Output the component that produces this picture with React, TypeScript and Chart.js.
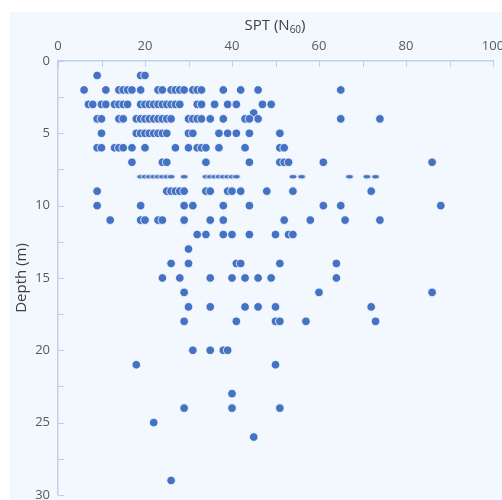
import React, { useEffect, useRef } from "react";
import { Chart, registerables } from "chart.js";

Chart.register(...registerables);

// Depth levels (m) and the SPT N60 values read at each level
const depthLevels = [1, 2, 3, 3.6, 4, 5, 6, 7, 9, 10, 11, 12, 13, 14, 15, 16, 17, 18, 20, 21, 23, 24, 25, 26, 29];
const sptByLevel = [
  [9, 19, 20],
  [6, 11, 14, 15, 16, 17, 19, 23, 24, 26, 27, 28, 29, 31, 32, 33, 38, 42, 46, 65],
  [7, 8, 10, 11, 13, 14, 15, 16, 19, 20, 21, 22, 23, 24, 25, 26, 27, 28, 32, 33, 36, 39, 41, 47, 49],
  [45],
  [9, 10, 14, 15, 18, 19, 20, 21, 22, 23, 24, 25, 26, 30, 31, 32, 33, 35, 38, 43, 44, 46, 65, 74],
  [10, 18, 19, 20, 21, 22, 23, 24, 25, 30, 31, 37, 39, 41, 44, 51],
  [9, 10, 13, 14, 15, 17, 20, 27, 30, 32, 33, 34, 37, 43, 51, 52],
  [17, 24, 25, 34, 44, 51, 52, 53, 61, 86],
  [9, 25, 26, 27, 28, 29, 34, 35, 39, 40, 42, 48, 54, 72],
  [9, 19, 29, 31, 38, 44, 61, 65, 88],
  [12, 19, 20, 23, 24, 29, 35, 38, 52, 58, 66, 74],
  [32, 34, 38, 40, 44, 50, 53, 54],
  [30],
  [26, 30, 41, 42, 51, 64],
  [24, 28, 35, 40, 43, 46, 49, 64],
  [29, 60, 86],
  [30, 35, 43, 46, 50, 72],
  [29, 41, 50, 51, 57, 73],
  [31, 35, 38, 39],
  [18, 50],
  [40],
  [29, 40, 51],
  [22],
  [45],
  [26],
];
// Row at 8 m, drawn with flattened markers in the reference
const depth8 = 8;
const depth8Spt = [19, 20, 21, 22, 23, 24, 25, 26, 29, 34, 35, 36, 37, 38, 39, 40, 41, 54, 56, 67, 71, 73];

const xTicks = [0, 20, 40, 60, 80, 100];
const yTicks = [0, 5, 10, 15, 20, 25, 30];
const xTitleMain = "SPT (N";
const xTitleSub = "60";
const xTitleEnd = ")";
const yTitle = "Depth (m)";

const BLUE = "#4472C4";
const AXIS = "#bcd2ec";
const FONT = "'Open Sans', 'Liberation Sans', sans-serif";

export default function App() {
  const ref = useRef<HTMLCanvasElement | null>(null);

  useEffect(() => {
    if (!ref.current) return;
    const mainPts: { x: number; y: number }[] = [];
    depthLevels.forEach((d, i) => sptByLevel[i].forEach((v) => mainPts.push({ x: v, y: d })));
    const rowPts = depth8Spt.map((v) => ({ x: v, y: depth8 }));

    const ell = document.createElement("canvas");
    ell.width = 10;
    ell.height = 7;
    const ec = ell.getContext("2d")!;
    ec.fillStyle = BLUE;
    ec.strokeStyle = "#ffffff";
    ec.lineWidth = 0.9;
    ec.beginPath();
    ec.ellipse(5, 3.5, 4, 2.4, 0, 0, Math.PI * 2);
    ec.fill();
    ec.stroke();

    const deco = {
      id: "deco",
      beforeDraw(chart: any) {
        const c = chart.ctx;
        c.save();
        c.fillStyle = "#ffffff";
        c.fillRect(0, 0, chart.width, chart.height);
        c.fillStyle = "#f2f8fd";
        c.fillRect(10, 12, chart.width - 10, chart.height - 12);
        c.restore();
      },
      afterDraw(chart: any) {
        const c = chart.ctx;
        const xs = chart.scales.x;
        const ys = chart.scales.y;
        const a = chart.chartArea;
        c.save();
        c.strokeStyle = AXIS;
        c.lineWidth = 1;
        for (let v = 0; v <= 100; v += 10) {
          const px = Math.round(xs.getPixelForValue(v)) + 0.5;
          c.beginPath();
          c.moveTo(px, a.top);
          c.lineTo(px, a.top + 6);
          c.stroke();
        }
        for (let v = 0; v <= 30; v += 2.5) {
          const py = Math.round(ys.getPixelForValue(v)) + 0.5;
          c.beginPath();
          c.moveTo(a.left, py);
          c.lineTo(a.left + 6, py);
          c.stroke();
        }
        c.fillStyle = "#404040";
        c.textBaseline = "alphabetic";
        c.font = `15px ${FONT}`;
        const w1 = c.measureText(xTitleMain).width;
        const w3 = c.measureText(xTitleEnd).width;
        c.font = `10px ${FONT}`;
        const w2 = c.measureText(xTitleSub).width;
        const total = w1 + w2 + w3;
        const x0 = 275 - total / 2;
        const base = 30;
        c.font = `15px ${FONT}`;
        c.textAlign = "left";
        c.fillText(xTitleMain, x0, base);
        c.font = `10px ${FONT}`;
        c.fillText(xTitleSub, x0 + w1, base + 3);
        c.font = `15px ${FONT}`;
        c.fillText(xTitleEnd, x0 + w1 + w2, base);
        c.translate(22, (a.top + a.bottom) / 2);
        c.rotate(-Math.PI / 2);
        c.textAlign = "center";
        c.textBaseline = "middle";
        c.fillText(yTitle, 0, 0);
        c.restore();
      },
    };

    const chart = new Chart(ref.current, {
      type: "scatter",
      data: {
        datasets: [
          {
            data: mainPts,
            backgroundColor: BLUE,
            borderColor: "#ffffff",
            borderWidth: 0.8,
            pointRadius: 4.3,
          },
          {
            data: rowPts,
            pointStyle: ell as any,
            backgroundColor: BLUE,
            borderColor: BLUE,
          },
        ],
      },
      options: {
        animation: false,
        responsive: false,
        layout: { padding: { left: 0, top: 0, right: 9, bottom: 5 } },
        plugins: { legend: { display: false }, tooltip: { enabled: false }, title: { display: false } },
        scales: {
          x: {
            type: "linear",
            position: "top",
            min: 0,
            max: 100,
            afterBuildTicks: (s: any) => {
              s.ticks = xTicks.map((v) => ({ value: v }));
            },
            afterFit: (s: any) => {
              s.height = 61;
              s.paddingLeft = 0;
              s.paddingRight = 0;
            },
            grid: { display: false, drawTicks: false },
            border: { display: true, color: AXIS, width: 1.5 },
            ticks: { padding: 7, color: "#595959", font: { family: FONT, size: 13 } },
          },
          y: {
            type: "linear",
            reverse: true,
            min: 0,
            max: 30,
            afterBuildTicks: (s: any) => {
              s.ticks = yTicks.map((v) => ({ value: v }));
            },
            afterFit: (s: any) => {
              s.width = 58;
              s.paddingTop = 0;
              s.paddingBottom = 0;
            },
            grid: { display: false, drawTicks: false },
            border: { display: true, color: AXIS, width: 1.5 },
            ticks: { padding: 8, color: "#595959", font: { family: FONT, size: 13 } },
          },
        },
      },
      plugins: [deco],
    });
    return () => chart.destroy();
  }, []);

  return (
    <canvas
      ref={ref}
      width={502}
      height={500}
      style={{ position: "fixed", left: 0, top: 0, width: 502, height: 500 }}
    />
  );
}
